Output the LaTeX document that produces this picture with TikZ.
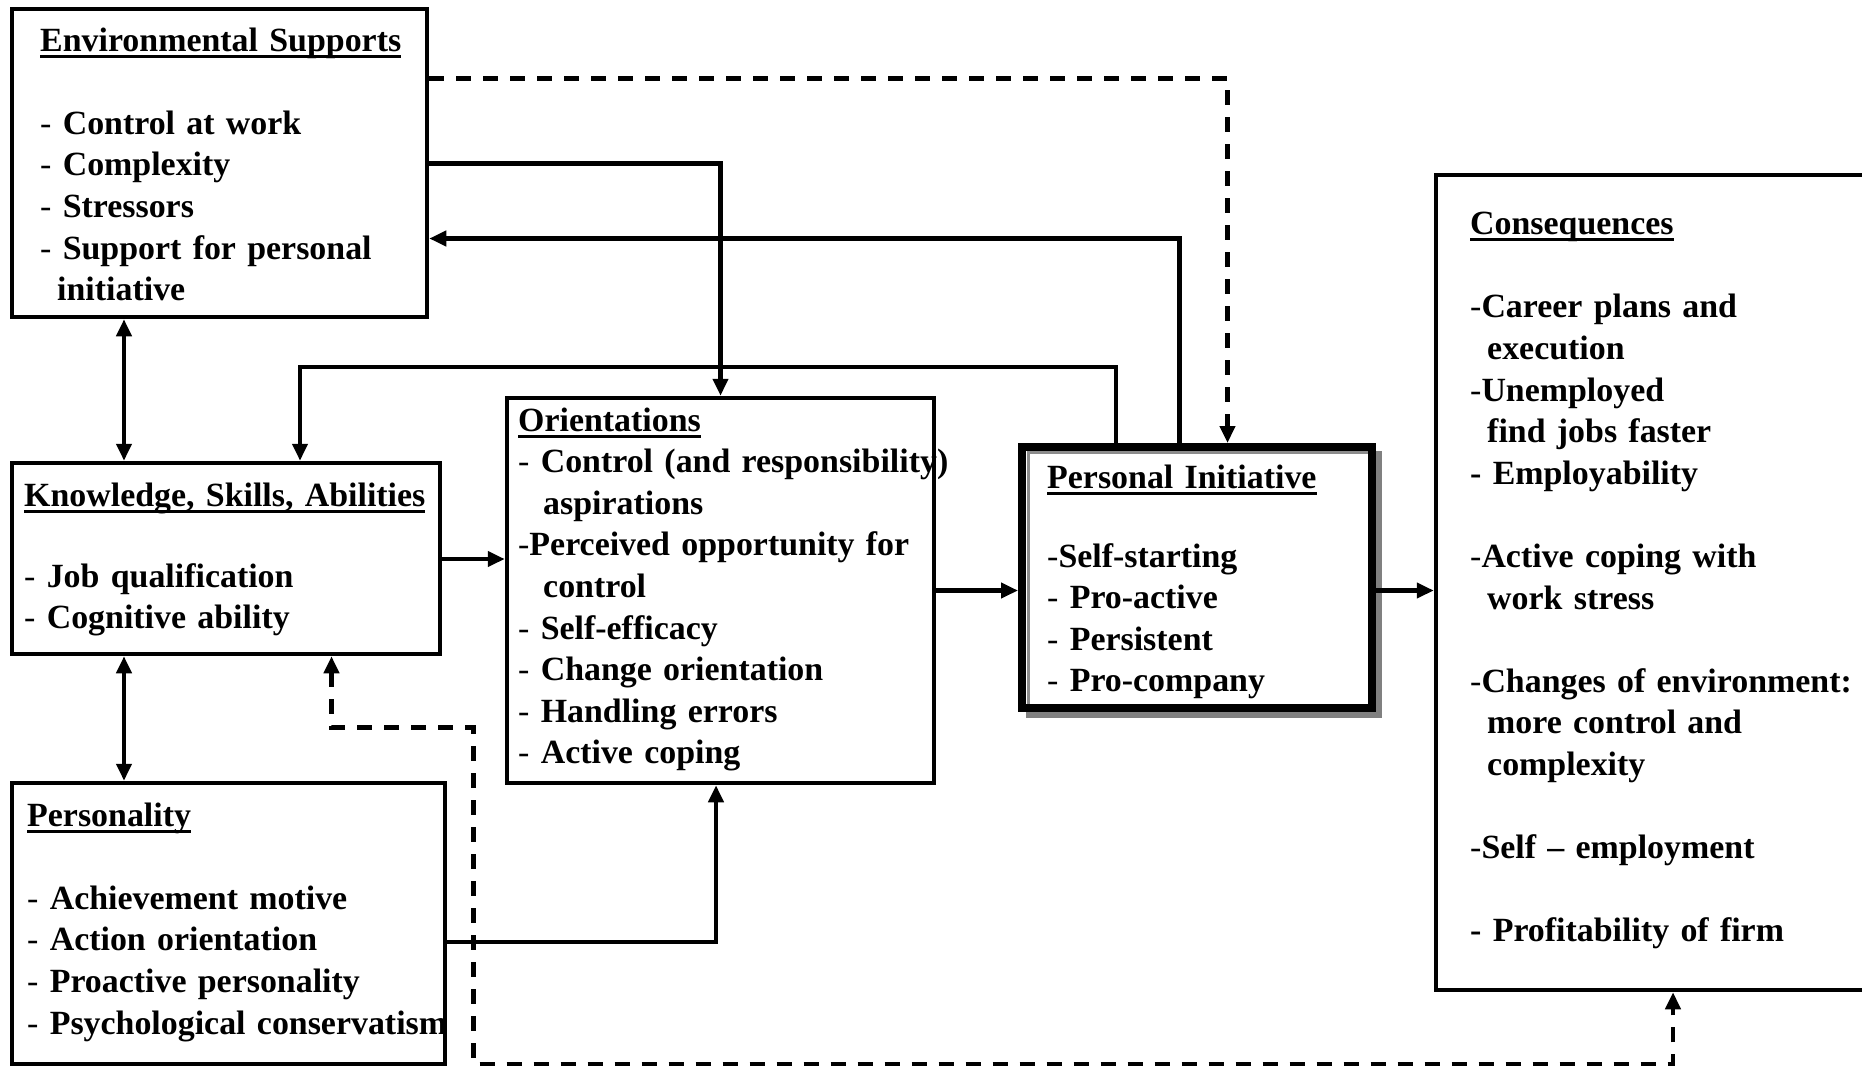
\documentclass[tikz,border=0pt]{standalone}
\usepackage{fontspec}
\setmainfont{Liberation Serif}
\usetikzlibrary{arrows.meta,fit}
\newcommand\myul[1]{\setbox0\hbox{#1}\rlap{\rule[-6.5pt]{\wd0}{3pt}}\box0}
\newcommand\dsh{\textmd{-}}
\tikzset{
  box/.style={draw, line width=4.5pt, inner sep=0pt},
  txt/.style={anchor=base west, inner sep=0pt, text width=560pt, align=left,
    font=\fontsize{33.9}{41.6}\selectfont\bfseries},
  conn/.style={line width=4.2pt, -{Triangle[length=17pt,width=15pt]}},
  conntwo/.style={line width=4.2pt, {Triangle[length=17pt,width=15pt]}-{Triangle[length=17pt,width=15pt]}},
  dconn/.style={conn, dash pattern=on 15pt off 12pt},
  dconntwo/.style={conntwo, dash pattern=on 15pt off 12pt},
  pishadow/.style={fill=black!50},
  pibevel/.style={draw=black!45, line width=3.5pt}
}
\begin{document}
\begin{tikzpicture}[x=1pt,y=-1pt]
\fill[white] (0,0) rectangle (1862,1068);
\useasboundingbox (0,0) rectangle (1862,1068);
\clip (0,0) rectangle (1862,1068);

% boxes
\node[box, fit={(12,9) (427,317)}] (env) {};
\node[box, fit={(12,463) (440,654)}] (ksa) {};
\node[box, fit={(12,783) (445,1064)}] (pers) {};
\node[box, fit={(507,398) (934,783)}] (ori) {};
\fill[pishadow] (1026,451) rectangle (1382,718);
\node[box, line width=8pt, fill=white, fit={(1022,447) (1372,708)}] (pi) {};
\draw[pibevel] (1028.5,704) -- (1028.5,452.5) -- (1368,452.5);
\node[box, fit={(1436,175) (1885,990)}] (cons) {};

% texts
\node[txt] (envt) at (40,51) {\myul{Environmental Supports}\\[41.6pt]\dsh{} Control at work\\\dsh{} Complexity\\\dsh{} Stressors\\\dsh{} Support for personal\\\hspace*{17pt}initiative};
\node[txt] (ksat) at (24,506) {\myul{Knowledge, Skills, Abilities}\\[39.4pt]\dsh{} Job qualification\\\dsh{} Cognitive ability};
\node[txt] (perst) at (27,826) {\myul{Personality}\\[41.6pt]\dsh{} Achievement motive\\\dsh{} Action orientation\\\dsh{} Proactive personality\\\dsh{} Psychological conservatism};
\node[txt] (orit) at (518,431) {\myul{Orientations}\\\dsh{} Control (and responsibility)\\\hspace*{25pt}aspirations\\\dsh{}Perceived opportunity for\\\hspace*{25pt}control\\\dsh{} Self-efficacy\\\dsh{} Change orientation\\\dsh{} Handling errors\\\dsh{} Active coping};
\node[txt] (pit) at (1047,488) {\myul{Personal Initiative}\\[37.4pt]\dsh{}Self-starting\\\dsh{} Pro-active\\\dsh{} Persistent\\\dsh{} Pro-company};
\node[txt] (const) at (1470,234.6) {\myul{Consequences}\\[41.6pt]\dsh{}Career plans and\\\hspace*{17pt}execution\\\dsh{}Unemployed\\\hspace*{17pt}find jobs faster\\{}- Employability\\[41.6pt]\dsh{}Active coping with\\\hspace*{17pt}work stress\\[41.6pt]\dsh{}Changes of environment:\\\hspace*{17pt}more control and\\\hspace*{17pt}complexity\\[41.6pt]\dsh{}Self – employment\\[41.6pt]{}- Profitability of firm};

% helper coordinates
\coordinate (ya) at (0,78.5);
\coordinate (xa) at (1227.5,0);
\coordinate (yb) at (0,163.5);
\coordinate (xc) at (1179.5,0);
\coordinate (yc) at (0,238.5);
\coordinate (xd) at (1116,0);
\coordinate (yd) at (0,367);
\coordinate (xe) at (300,0);
\coordinate (xf) at (124,0);
\coordinate (yg) at (0,559);
\coordinate (yh) at (0,590.5);
\coordinate (yi) at (0,942);
\coordinate (xi) at (716,0);
\coordinate (xj) at (331.5,0);
\coordinate (yk) at (0,727.5);
\coordinate (xl) at (473.5,0);
\coordinate (ym) at (0,1064);
\coordinate (xn) at (1673,0);

% connectors
\draw[dconn] (env.east |- ya) -| (pi.north -| xa);
\draw[conn] (env.east |- yb) -| (ori.north);
\draw[conn] (pi.north -| xc) |- (env.east |- yc);
\draw[conn] (pi.north -| xd) |- (yd -| xe) -- (ksa.north -| xe);
\draw[conntwo] (env.south -| xf) -- (ksa.north -| xf);
\draw[conntwo] (ksa.south -| xf) -- (pers.north -| xf);
\draw[conn] (ksa.east |- yg) -- (ori.west |- yg);
\draw[conn] (ori.east |- yh) -- (pi.west |- yh);
\draw[conn] (pi.east |- yh) -- (cons.west |- yh);
\draw[conn] (pers.east |- yi) -| (ori.south -| xi);
\draw[dconntwo] (ksa.south -| xj) |- (yk -| xl) |- (ym -| xn) -- (cons.south -| xn);
\end{tikzpicture}
\end{document}
